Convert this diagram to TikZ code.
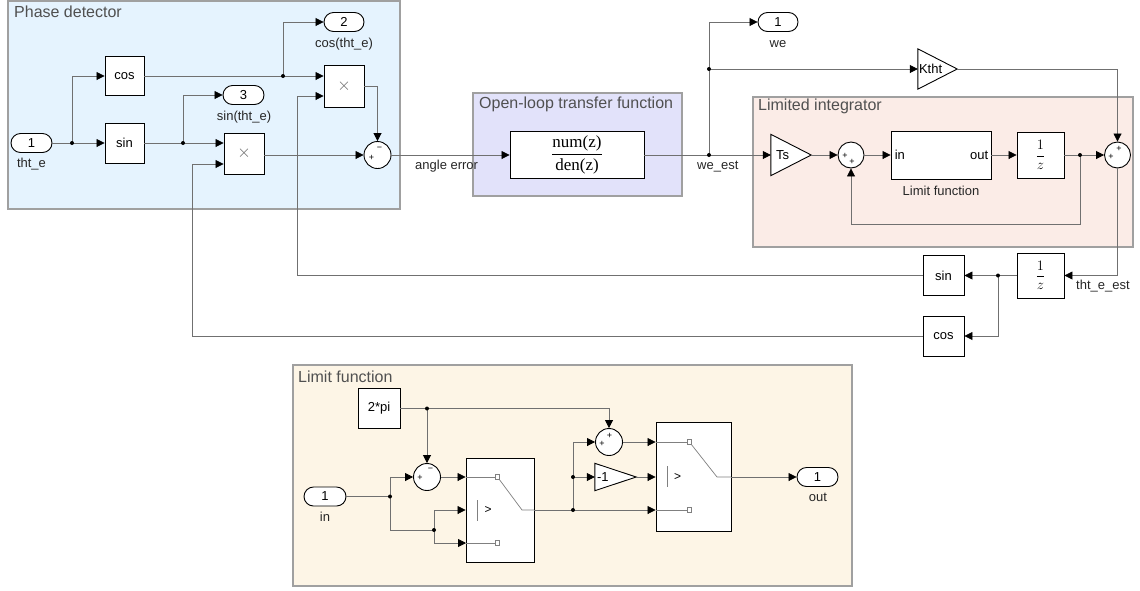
\documentclass[tikz,border=0pt]{standalone}
\usepackage{fontspec}
\setmainfont{Liberation Sans}
\newfontfamily\serifnum{Liberation Serif}
\usetikzlibrary{arrows.meta,shapes.misc,calc}

\definecolor{pdfill}{RGB}{229,243,254}
\definecolor{olfill}{RGB}{226,226,250}
\definecolor{lifill}{RGB}{251,236,231}
\definecolor{lffill}{RGB}{253,245,230}
\definecolor{areaedge}{RGB}{160,160,160}
\definecolor{wirec}{RGB}{112,112,112}
\definecolor{ttlc}{RGB}{80,80,80}

\begin{document}
\begin{tikzpicture}[x=1pt,y=-1pt,
  area/.style={draw=areaedge, line width=1.2pt},
  ttl/.style={anchor=base west, font=\fontsize{16}{19}\selectfont, text=ttlc, inner sep=0},
  blk/.style={draw=black, fill=white, line width=0.9pt, inner sep=0, font=\fontsize{13}{15}\selectfont},
  tri/.style={draw=black, fill=white, line width=0.9pt},
  ghost/.style={inner sep=0},
  gtxt/.style={anchor=west, inner sep=0, font=\fontsize{13}{15}\selectfont},
  port/.style={rounded rectangle, draw=black, fill=white, line width=0.9pt,
    minimum width=41pt, minimum height=19pt, inner sep=0, font=\fontsize{13}{15}\selectfont},
  sumc/.style={circle, draw=black, fill=white, line width=0.9pt, minimum size=27pt, inner sep=0},
  sg/.style={font=\fontsize{9}{10}\selectfont, inner sep=0},
  lbl/.style={anchor=base, font=\fontsize{13}{15}\selectfont, text=black!85, inner sep=0},
  wire/.style={draw=wirec, line width=0.8pt},
  sig/.style={wire, -{Triangle[length=8pt,width=8pt,color=black,fill=black]}},
  swl/.style={draw=gray, line width=0.7pt},
  dot/.style={fill=black},
  mult/.style={blk, font=\fontsize{17}{19}\selectfont, text=black!60},
  delay/.style={font=\fontsize{13.5}{16}\selectfont},
]
\useasboundingbox (0,0) rectangle (1140,590);

% ---------- subsystem areas ----------
\draw[area, fill=pdfill] (8,1) rectangle (400,209);
\node[ttl] (t-pd) at (14,17) {Phase detector};
\draw[area, fill=olfill] (473,93) rectangle (682,196);
\node[ttl] (t-ol) at (479,108) {Open-loop transfer function};
\draw[area, fill=lifill] (753,97) rectangle (1133,247);
\node[ttl] (t-li) at (758,110) {Limited integrator};
\draw[area, fill=lffill] (293,365) rectangle (852,586);
\node[ttl] (t-lf) at (298,382) {Limit function};

% ---------- phase detector ----------
\node[port] (in1) at (31.5,143) {1};
\node[lbl] (l-in1) at (31.5,167) {tht\_e};
\node[blk, minimum width=39pt, minimum height=39pt] (cos) at (124.5,76) {cos};
\node[blk, minimum width=39pt, minimum height=40pt] (sin) at (124.5,143) {sin};
\node[port, minimum width=40pt] (out2) at (344,22) {2};
\node[lbl] (l-out2) at (344,47) {cos(tht\_e)};
\node[port] (out3) at (243.5,95) {3};
\node[lbl] (l-out3) at (244,120) {sin(tht\_e)};
\node[mult, minimum width=40pt, minimum height=42pt] (prod1) at (344,86) {$\times$};
\node[mult, minimum width=40pt, minimum height=41pt] (prod2) at (244,153.5) {$\times$};
\node[sumc] (spd) at (377.5,155) {};
\node[sg] (spd-a) at (371.5,157.5) {+};
\node[sg] (spd-b) at (379.5,149) {−};

% ---------- open-loop transfer function ----------
\node[blk, minimum width=134pt, minimum height=47pt] (tf) at (577,155)
  {\serifnum\fontsize{17}{20}\selectfont$\displaystyle\frac{\hbox{num(z)}}{\hbox{den(z)}}$};
\node[anchor=base west, font=\fontsize{13}{15}\selectfont, text=black!85, inner sep=0] (l-ae) at (415,169) {angle error};
\node[anchor=base west, font=\fontsize{13}{15}\selectfont, text=black!85, inner sep=0] (l-west) at (697,169) {we\_est};

% ---------- outputs above ----------
\node[port, minimum width=40pt] (we) at (778,22) {1};
\node[lbl] (l-we) at (778,47) {we};
\node[ghost, minimum width=39pt, minimum height=40pt] (ktht) at (937.5,69) {};
\draw[tri] (ktht.north west) -- (ktht.east) -- (ktht.south west) -- cycle;
\node[gtxt] (ktht-t) at ([xshift=1pt]ktht.west) {Ktht};

% ---------- limited integrator ----------
\node[ghost, minimum width=40pt, minimum height=41pt] (ts) at (791,155) {};
\draw[tri] (ts.north west) -- (ts.east) -- (ts.south west) -- cycle;
\node[gtxt] (ts-t) at ([xshift=5pt]ts.west) {Ts};
\node[sumc, minimum size=26pt] (s1) at (851,155) {};
\node[sg] (s1-a) at (845,156) {+};
\node[sg] (s1-b) at (852,162) {+};
\node[blk, minimum width=100pt, minimum height=48pt] (lf) at (941,155) {};
\node[gtxt] (lf-in) at ([xshift=4pt]lf.west) {in};
\node[anchor=east, inner sep=0, font=\fontsize{13}{15}\selectfont] (lf-out) at ([xshift=-3pt]lf.east) {out};
\node[lbl] (l-lf) at (941,195) {Limit function};
\node[blk, delay, minimum width=47pt, minimum height=46pt] (z1) at (1040.5,155)
  {$\displaystyle\frac{1}{z}$};
\node[sumc, minimum size=26pt] (s2) at (1117.5,155) {};
\node[sg] (s2-a) at (1111,157) {+};
\node[sg] (s2-b) at (1119,149) {+};

% ---------- feedback path ----------
\node[blk, delay, minimum width=47pt, minimum height=45pt] (z2) at (1040.5,275.5)
  {$\displaystyle\frac{1}{z}$};
\node[anchor=base west, font=\fontsize{13}{15}\selectfont, text=black!85, inner sep=0] (l-tee) at (1076,289) {tht\_e\_est};
\node[blk, minimum width=41pt, minimum height=40pt] (sinb) at (943.5,275.5) {sin};
\node[blk, minimum width=41pt, minimum height=40pt] (cosb) at (943.5,336) {cos};

% ---------- limit function ----------
\node[blk, minimum width=42pt, minimum height=40pt] (pi) at (379,408.5) {2*pi};
\node[port, minimum width=42pt] (lfin) at (325,496.5) {1};
\node[lbl] (l-lfin) at (325,521) {in};
\node[sumc] (sA) at (427,477) {};
\node[sg] (sA-a) at (420,478) {+};
\node[sg] (sA-b) at (430.5,470) {−};
\node[blk, minimum width=68pt, minimum height=104pt] (sw1) at (500,510) {};
\node[sumc] (sB) at (609,442) {};
\node[sg] (sB-a) at (602,443.5) {+};
\node[sg] (sB-b) at (609.5,436) {+};
\node[ghost, minimum width=41pt, minimum height=27pt] (gm1) at (615.5,477) {};
\draw[tri] (gm1.north west) -- (gm1.east) -- (gm1.south west) -- cycle;
\node[gtxt] (gm1-t) at ([xshift=2pt]gm1.west) {-1};
\node[blk, minimum width=75pt, minimum height=109pt] (sw2) at (693.5,477) {};
\node[port] (outp) at (817.5,477) {1};
\node[lbl] (l-outp) at (818,501) {out};

% switch symbols
\draw[swl] (466,477) -- (495,477);
\draw[swl, fill=white] (495,474.5) rectangle (499,479.5);
\draw[swl] (499,479) -- (522,510) -- (534,510);
\draw[swl] (477,500) -- (477,521);
\node[inner sep=0, font=\fontsize{12}{14}\selectfont] (sw1-g) at (488,509.5) {>};
\draw[swl] (466,543) -- (495,543);
\draw[swl, fill=white] (495,540.5) rectangle (499,545.5);

\draw[swl] (656,442) -- (687,442);
\draw[swl, fill=white] (687,439.5) rectangle (691,444.5);
\draw[swl] (691,444) -- (717,477) -- (731,477);
\draw[swl] (667,466) -- (667,487);
\node[inner sep=0, font=\fontsize{12}{14}\selectfont] (sw2-g) at (677.5,476.5) {>};
\draw[swl] (656,510) -- (687,510);
\draw[swl, fill=white] (687,507.5) rectangle (691,512.5);

% ---------- connectors ----------
\coordinate (d1) at (72,143);
\coordinate (d2) at (283,76);
\coordinate (d3) at (183,143);
\coordinate (d4) at (709,155);
\coordinate (d5) at (709,69);
\coordinate (d6) at (1080,155);
\coordinate (fb) at (1080,224);
\coordinate (d7) at (998,275.5);
\coordinate (c1a) at (297,275.5);
\coordinate (c1b) at (297,96);
\coordinate (c2a) at (192,336);
\coordinate (c2b) at (192,164);
\coordinate (d8) at (390,496.5);
\coordinate (d9) at (434,530);
\coordinate (sw1c) at (466,543);
\coordinate (d10) at (427,408.5);
\coordinate (d11) at (573,510);
\coordinate (d12) at (573,477);

\draw[wire] (in1.east) -- (d1);
\draw[sig] (d1) -- (sin.west);
\draw[sig] (d1) |- (cos.west);
\draw[wire] (cos.east) -- (d2);
\draw[sig] (d2) -- (d2 -| prod1.west);
\draw[sig] (d2) |- (out2.west);
\draw[wire] (sin.east) -- (d3);
\draw[sig] (d3) -- (d3 -| prod2.west);
\draw[sig] (d3) |- (out3.west);
\draw[sig] (prod1.east) -| (spd.north);
\draw[sig] (prod2.east |- spd.west) -- (spd.west);
\draw[sig] (spd.east) -- (tf.west);
\draw[wire] (tf.east) -- (d4);
\draw[sig] (d4) -- (ts.west);
\draw[sig] (d4) |- (we.west);
\draw[sig] (d5) -- (ktht.west);
\draw[sig] (ktht.east) -| (s2.north);
\draw[sig] (ts.east) -- (s1.west);
\draw[sig] (s1.east) -- (lf.west);
\draw[sig] (lf.east) -- (z1.west);
\draw[wire] (z1.east) -- (d6);
\draw[sig] (d6) -- (s2.west);
\draw[sig] (d6) -- (fb) -| (s1.south);
\draw[sig] (s2.south) |- (z2.east);
\draw[wire] (z2.west) -- (d7);
\draw[sig] (d7) -- (sinb.east);
\draw[sig] (d7) |- (cosb.east);
\draw[sig] (sinb.west) -- (c1a) -- (c1b) -- (c1b -| prod1.west);
\draw[sig] (cosb.west) -- (c2a) -- (c2b) -- (c2b -| prod2.west);

\draw[wire] (lfin.east) -- (d8);
\draw[sig] (d8) |- (sA.west);
\draw[wire] (d8) |- (d9);
\draw[sig] (d9) |- (sw1.west);
\draw[sig] (d9) |- (sw1c);
\draw[wire] (pi.east) -- (d10);
\draw[sig] (d10) -- (sA.north);
\draw[sig] (d10) -| (sB.north);
\draw[sig] (sA.east) -- (sA.east -| sw1.west);
\draw[wire] (sw1.east) -- (d11);
\draw[sig] (d11) -- (d11 -| sw2.west);
\draw[wire] (d11) -- (d12);
\draw[sig] (d12) -- (gm1.west);
\draw[sig] (d12) |- (sB.west);
\draw[sig] (sB.east) -- (sB.east -| sw2.west);
\draw[sig] (gm1.east) -- (gm1.east -| sw2.west);
\draw[sig] (sw2.east) -- (outp.west);

\foreach \d in {d1,d2,d3,d4,d5,d6,d7,d8,d9,d10,d11,d12}
  \fill[dot] (\d) circle (2pt);
\end{tikzpicture}
\end{document}
